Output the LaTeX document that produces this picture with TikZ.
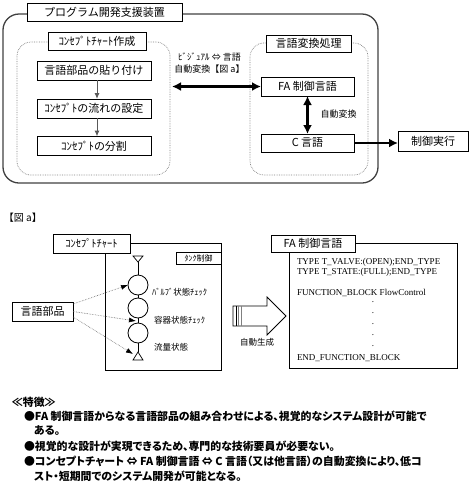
\documentclass[tikz,border=0pt]{standalone}
\usepackage{fontspec}
\setmainfont{Noto Sans CJK JP}
\newfontfamily\propfont{Noto Sans CJK JP}[RawFeature=+palt]
\newfontfamily\codefont{Liberation Serif}
\usetikzlibrary{arrows.meta}

\tikzset{%
    >=latex, % default arrow tip
    inner sep=0pt,%
    outer sep=0pt,%
    box/.style={draw, fill=white, line width=0.8pt,
        font=\fontsize{11}{13}\selectfont},%
    group/.style={draw=gray, densely dotted, line width=0.7pt,
        rounded corners=14pt},%
    flow arrow/.style={-{Latex[length=6pt,width=5pt]}, gray!70!black,
        line width=1pt},%
    thick arrow/.style={line width=2.4pt,
        >={Latex[length=9pt,width=9pt]}},%
    part arrow/.style={-{Latex[length=7pt,width=5pt,black]}, densely dotted,
        gray!80!black, line width=0.6pt},%
    note/.style={align=center, font=\fontsize{9}{12}\selectfont},%
    small/.style={font=\fontsize{8.5}{10}\selectfont},%
    code/.style={font=\codefont\fontsize{9}{10}\selectfont},%
    feature/.style={anchor=west, font=\propfont\bfseries\fontsize{10.9}{12}\selectfont}%
}

\begin{document}
\begin{tikzpicture}[x=1pt,y=-1pt]

    \useasboundingbox (0,0) rectangle (470,483);

    \def\colx{94} % left column
    \def\langx{307.5} % right column

    % program development device
    \draw[rounded corners=16pt, line width=1.3pt, black!75] (3,14) rectangle (378,183);
    \node[box, minimum width=155pt, minimum height=18pt] (device) at (104.5,12) {プログラム開発支援装置};

    % concept chart creation
    \draw[group] (17,42) rectangle (170,175);
    \node[box, minimum width=98pt, minimum height=18pt] (chartmake) at (97,41) {ｺﾝｾﾌﾟﾄﾁｬｰﾄ作成};
    \node[box, minimum width=114pt, minimum height=19pt] (paste) at (\colx,70.5) {言語部品の貼り付け};
    \node[box, minimum width=114pt, minimum height=19pt] (flowset) at (\colx,108.5) {ｺﾝｾﾌﾟﾄの流れの設定};
    \node[box, minimum width=114pt, minimum height=19pt] (split) at (\colx,146) {ｺﾝｾﾌﾟﾄの分割};
    \draw[flow arrow] ([xshift=3pt]paste.south) -- ([xshift=3pt]flowset.north);
    \draw[flow arrow] ([xshift=3pt]flowset.south) -- ([xshift=3pt]split.north);

    % language conversion
    \draw[group] (250,43) rectangle (368,175);
    \node[box, minimum width=85pt, minimum height=17pt] (convert) at (308.5,43.5) {言語変換処理};
    \node[box, minimum width=93pt, minimum height=19pt] (falang) at (\langx,86.5) {FA 制御言語};
    \node[box, minimum width=93pt, minimum height=18pt] (clang) at (\langx,143) {C 言語};
    \node[box, minimum width=70pt, minimum height=20pt] (run) at (433,141) {制御実行};

    \coordinate (visual) at (172,86.5);
    \draw[thick arrow,<->] (visual) -- (falang.west);
    \draw[thick arrow,<->] (falang.south) -- (clang.north);
    \draw[thick arrow,->] (clang.east) -- (clang.east -| run.west);
    \node[note] (vistext) at (209.5,63) {ﾋﾞｼﾞｭｱﾙ ⇔ 言語\\自動変換【図 a】};
    \node[note] (autotext) at (338.5,114) {自動変換};

    %%%%%%%% figure a
    \node[anchor=west, font=\fontsize{10}{12}\selectfont] (figa) at (4,218) {【図 a】};

    % concept chart
    \node[draw, line width=0.8pt, minimum width=116pt, minimum height=127pt] (chart) at (163,306.5) {};
    \node[box, minimum width=77pt, minimum height=19pt, font=\fontsize{10.5}{12}\selectfont] (charttitle) at (91.5,243.5) {ｺﾝｾﾌﾟﾄﾁｬｰﾄ};
    \node[box, minimum width=45pt, minimum height=12pt, font=\fontsize{8}{10}\selectfont] (tank) at (198.5,258) {ﾀﾝｸ制御};

    \draw[line width=0.8pt] (138,262) -- (138,352);
    \draw[line width=0.7pt, fill=white] (133,256) -- (143,256) -- (138,262) -- cycle; % start
    \draw[line width=0.7pt, fill=white] (133,360) -- (143,360) -- (138,352) -- cycle; % end
    \node[circle, draw, line width=0.8pt, fill=white, minimum size=20pt] (valve) at (138,285) {};
    \node[circle, draw, line width=0.8pt, fill=white, minimum size=20pt] (vessel) at (138,308) {};
    \node[circle, draw, line width=0.8pt, fill=white, minimum size=20pt] (flow) at (138,333) {};
    \node[small, anchor=west] (valvetext) at (152,292) {ﾊﾞﾙﾌﾞ状態ﾁｪｯｸ};
    \node[small, anchor=west] (vesseltext) at (154,320) {容器状態ﾁｪｯｸ};
    \node[small, anchor=west] (flowtext) at (154,347) {流量状態};

    % language parts
    \node[box, minimum width=61pt, minimum height=19pt] (parts) at (42.5,311.5) {言語部品};
    \coordinate (joint) at (136,321);
    \coordinate (endmark) at (133,354);
    \draw[part arrow] ([yshift=7.5pt]parts.east) -- (valve.west);
    \draw[part arrow] (parts.east) -- (joint);
    \draw[part arrow] ([yshift=-5.5pt]parts.east) -- (endmark);

    % automatic generation
    \draw[line width=0.8pt, fill=white] (233,306) -- (267,306) -- (267,297) -- (286,316)
        -- (267,335) -- (267,326) -- (233,326) -- cycle;
    \draw[line width=0.6pt] (236,306) -- (236,326);
    \draw[gray, line width=1pt] (238.5,306) -- (238.5,326);
    \draw[gray, line width=0.6pt] (241,306) -- (241,326);
    \node[small] (gen) at (257,342) {自動生成};

    % FA control language
    \node[draw, line width=0.8pt, minimum width=168pt, minimum height=125pt] (facode) at (373,305.5) {};
    \node[box, minimum width=84pt, minimum height=17pt] (fatitle) at (313,243.5) {FA 制御言語};
    \node[code, anchor=base west] (type1) at (297,264.5) {TYPE T\_VALVE:(OPEN);END\_TYPE};
    \node[code, anchor=base west] (type2) at (297,274.5) {TYPE T\_STATE:(FULL);END\_TYPE};
    \node[code, anchor=base west] (fb) at (297,295.5) {FUNCTION\_BLOCK FlowControl};
    \foreach \y [count=\i] in {302,313,324,335,346}
        \node[code, anchor=base, text height=1pt, text depth=0pt] (dot\i) at (373,\y+0.6) {.};
    \node[code, anchor=base west] (endfb) at (297,360.5) {END\_FUNCTION\_BLOCK};

    %%%%%%%% features
    \node[feature] (feat) at (12,402) {≪特徴≫};
    \node[feature] (feat1) at (24,416) {●FA 制御言語からなる言語部品の組み合わせによる、視覚的なシステム設計が可能で};
    \node[feature] (feat1b) at (34,431) {ある。};
    \node[feature] (feat2) at (24,446) {●視覚的な設計が実現できるため、専門的な技術要員が必要ない。};
    \node[feature] (feat3) at (24,461) {●コンセプトチャート ⇔ FA 制御言語 ⇔ C 言語（又は他言語）の自動変換により、低コ};
    \node[feature] (feat3b) at (34,476) {スト・短期間でのシステム開発が可能となる。};

\end{tikzpicture}
\end{document}
